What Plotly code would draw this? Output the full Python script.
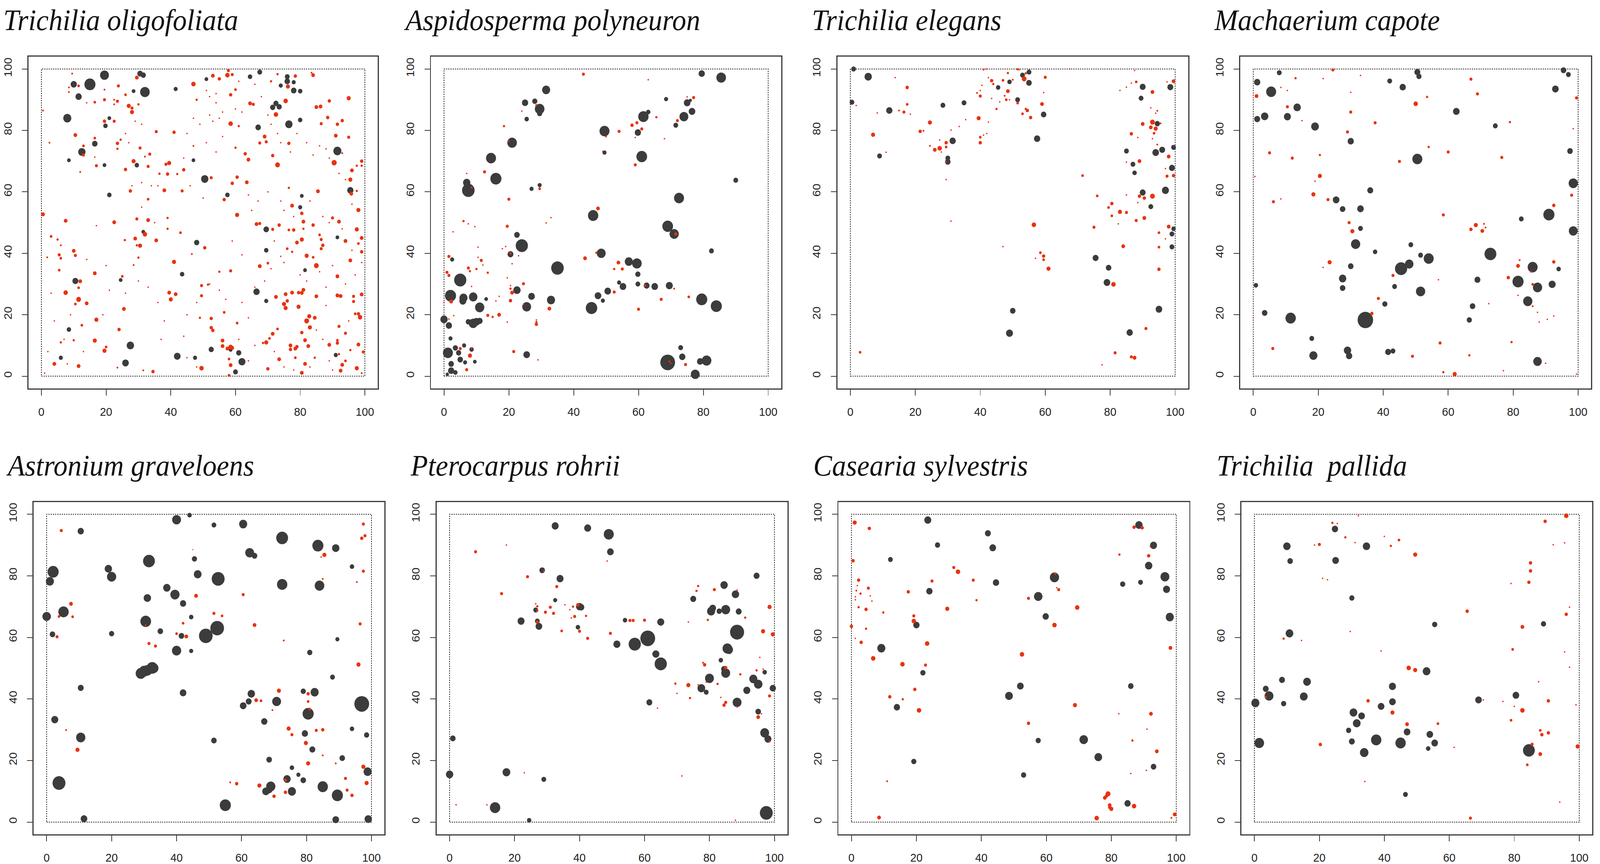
import plotly.graph_objects as go

# stem maps of eight species in 100 x 100 m plots
# each point is (x, y, dbh) ; adults drawn dark, juveniles red

oligofoliata_adults = [
    (15, 95, 30), (19.5, 98, 24), (10, 95, 17), (11.5, 91, 17), (8, 84, 22),
    (30.5, 98.5, 15), (31.5, 98, 14), (32, 92.5, 26), (28.5, 92.8, 10), (21, 84, 10),
    (19.8, 81.5, 12), (12.5, 73, 20), (16.5, 75.7, 15), (8.5, 70.3, 10), (19.5, 68.7, 10),
    (29.5, 68.7, 12), (41.5, 93.5, 11), (51, 96.7, 10), (47, 70.3, 10), (50.5, 64.2, 20),
    (21, 59, 12), (57.5, 59, 12), (64.5, 97.5, 12), (67.5, 99, 13), (76, 97.5, 13),
    (76, 96, 15), (78, 95.7, 11), (74, 94.6, 11), (78, 93, 15), (80, 92.8, 12),
    (72.5, 88.8, 14), (71.5, 87.5, 14), (73.5, 87.7, 14), (80, 83.4, 12), (76.5, 82, 20),
    (67, 81, 15), (91.5, 73.3, 22), (95.5, 60.5, 17), (80.5, 58.7, 10), (80, 55, 11),
    (69.5, 47.8, 15), (69.5, 41, 12), (91.5, 45.2, 10), (81.5, 34.5, 10), (48, 43.5, 14),
    (31.5, 47, 10), (43.5, 33.2, 12), (24.5, 31.3, 10), (10.5, 31, 16), (8.5, 15.2, 12),
    (27.5, 10, 20), (26, 4.3, 18), (42, 6.5, 18), (47.5, 6, 11), (52.5, 8.7, 14),
    (58.5, 8.6, 10), (61, 7.6, 14), (62, 4.7, 19), (60, 1.4, 13), (66.5, 27.5, 17),
    (69.5, 24.5, 11), (91, 6.9, 11), (6, 6, 11),
]
oligofoliata_juveniles = [
    (0.5, 86.5, 5), (9.5, 98.5, 5), (8.5, 94, 5), (8.5, 92.5, 5), (11.5, 94.5, 7),
    (19.5, 90, 8), (19.5, 93.3, 5), (22.5, 90, 5), (23.8, 94.5, 8), (23.5, 89.5, 8),
    (26, 91.6, 7), (27, 88, 11), (28, 87.3, 8), (28, 86, 11), (29.5, 97.2, 10),
    (30, 88.5, 6), (16.5, 89.2, 7), (14, 89, 4), (19.5, 83, 9), (22.5, 83, 8),
    (24.5, 77, 6), (23.5, 75.8, 9), (23.5, 74, 6), (10.5, 78.5, 10), (16.5, 77.5, 7),
    (13, 75, 7), (13, 72, 8), (17, 68.5, 8), (16.5, 71.3, 4), (26, 67.3, 9),
    (28.5, 70, 11), (30.5, 74.3, 8), (33.5, 72.3, 8), (33, 68.3, 8), (32, 71.5, 5),
    (35.5, 79.6, 8), (41, 79.4, 9), (39.5, 69.4, 11), (38.5, 69, 8), (36.5, 65.9, 6),
    (39, 65.8, 9), (42, 65.8, 6), (44, 67.2, 9), (38, 60.5, 10), (43.5, 60.3, 8),
    (27.5, 60.3, 9), (33, 57.6, 7), (47, 75, 5), (47, 95.1, 12), (48, 90, 6),
    (53, 97.8, 10), (55, 96.8, 9), (57.8, 99.5, 8), (57.5, 98, 12), (59, 98.2, 8),
    (60, 93.3, 7), (58.5, 91.6, 9), (58.5, 82.2, 12), (61, 81.4, 6), (60, 74.4, 6),
    (63, 72.4, 9), (64, 70.5, 10), (60.5, 64.8, 9), (59, 62.8, 9), (63.5, 63.1, 10),
    (52.5, 64.6, 8), (56.5, 57.5, 9), (60.5, 52.5, 11), (64.5, 88.8, 10), (65.5, 88.5, 8),
    (69, 78, 10), (69.5, 76.3, 8), (67.5, 75.9, 8), (71.5, 71.8, 9), (73, 68.8, 13),
    (72.5, 85.2, 12), (75.5, 89.6, 12), (76.2, 94.3, 11), (78.5, 97.7, 9), (76.5, 75.8, 9),
    (73, 98.3, 6), (71, 96, 6), (84, 98, 10), (83.5, 98.8, 5), (85, 87.6, 10),
    (86.3, 87.8, 10), (89, 89.6, 9), (88.5, 84.2, 9), (91.5, 82, 9), (86.5, 82.2, 8),
    (91, 78.3, 10), (93, 83.2, 9), (95, 90.5, 11), (95, 77.8, 8), (90.5, 69.5, 14),
    (93, 72.6, 5), (96, 67, 10), (95.5, 64, 11), (97.5, 68.5, 6), (99, 70, 9),
    (99, 68.5, 6), (95.8, 59.4, 10), (97.5, 60.3, 6), (98, 54.1, 11), (99, 45, 10),
    (97.5, 47.8, 11), (98, 43.2, 7), (99, 40.5, 9), (95.5, 37.7, 10), (94, 44, 10),
    (92, 50.3, 10), (90, 51.5, 8), (86.5, 44.5, 8), (87, 42.6, 9), (86.5, 41.5, 8),
    (86, 46, 7), (85, 36, 13), (85.5, 60.2, 10), (84, 49.2, 9), (81, 50.3, 10),
    (80.5, 53, 9), (81, 48, 6), (80.5, 44.5, 11), (79, 43.5, 10), (78, 47.6, 9),
    (76.5, 47.6, 7), (77.5, 55.5, 10), (73.5, 49.2, 9), (71.5, 47.8, 8), (66.5, 49.5, 10),
    (67.5, 49.7, 8), (82, 39.2, 11), (76, 41.5, 7), (77.5, 40.5, 6), (84, 38.7, 7),
    (76.5, 61.3, 6), (67.5, 35.8, 10), (70, 36.8, 7), (75.5, 26.7, 10), (77.5, 27.2, 10),
    (79.5, 27.2, 9), (80.5, 27.1, 10), (81, 28.1, 10), (85, 26, 10), (91.5, 26.3, 10),
    (92.5, 26.1, 10), (91.5, 32.5, 10), (96.5, 26, 8), (99, 26.6, 10), (96.5, 24.3, 8),
    (97, 20.3, 7), (98, 20.3, 9), (98.5, 19.2, 12), (75, 23.5, 11), (75.5, 22.2, 11),
    (76, 24.5, 9), (79.5, 22.6, 11), (82, 18, 13), (82.8, 19.5, 11), (83, 15.9, 11),
    (81.5, 11.7, 10), (82.5, 9.8, 10), (80.5, 14.2, 9), (84.5, 19, 10), (72.5, 25.8, 10),
    (73, 15.4, 7), (71.5, 13.8, 10), (70.5, 12.3, 7), (68.5, 10.8, 6), (69.5, 11, 11),
    (70, 2.4, 9), (73.5, 5.5, 10), (77, 10, 10), (77, 8.7, 9), (78.5, 9, 10),
    (79, 9.6, 9), (78.5, 6, 7), (80.5, 1.1, 10), (81.5, 4, 10), (84.5, 6, 6),
    (89, 10.2, 10), (91.5, 10.8, 9), (91.5, 11.7, 7), (92, 16.2, 8), (94, 14, 8),
    (92.5, 1.8, 10), (93, 3.7, 10), (94, 5, 7), (97.5, 2.6, 11), (99, 1, 5),
    (98, 10.3, 10), (99.5, 7.9, 8), (95.5, 8.5, 6), (92, 7.2, 6), (55, 34, 6),
    (58.5, 34.3, 8), (62, 39.5, 4), (50.5, 41.8, 9), (49.5, 29.5, 8), (51.5, 29.8, 6),
    (49.5, 26.2, 8), (52.5, 18.8, 9), (52.5, 15.8, 9), (53, 14.9, 9), (49, 19, 6),
    (56, 11.6, 10), (56, 9.8, 10), (58.5, 9.5, 12), (59, 9.2, 10), (57.5, 9, 10),
    (58.5, 3.6, 10), (58, 5.6, 7), (58, 0.3, 7), (49.5, 2.6, 12), (60.5, 17.3, 7),
    (56.5, 20.8, 7), (41, 37.2, 11), (39.5, 27.2, 10), (40, 25, 11), (41.5, 26.7, 10),
    (46.5, 39.8, 5), (43, 46.7, 7), (39, 48, 6), (39, 51.5, 6), (35.5, 44.2, 10),
    (32, 46.2, 12), (29.5, 51.2, 8), (33, 50.8, 10), (29, 44.8, 10), (30.5, 42.5, 11),
    (29.5, 42.6, 6), (30, 38.6, 6), (28.5, 36.2, 5), (25.8, 44.3, 6), (22.5, 50.1, 10),
    (16.5, 33.5, 10), (12, 30.9, 10), (11.5, 28.8, 7), (11.5, 25, 13), (10.5, 23.5, 7),
    (14, 23.7, 10), (7.5, 27.2, 12), (7.5, 50.6, 10), (0.5, 52.7, 10), (3, 45.5, 7),
    (5, 44.5, 6), (5.5, 39.5, 8), (6, 38.4, 7), (6, 42.6, 5), (10, 40.8, 10),
    (10.5, 39.3, 8), (5.5, 34.5, 7), (1.8, 38.7, 5), (17, 18.4, 11), (16.5, 11.6, 11),
    (12.5, 16.6, 7), (10, 11.7, 6), (6, 11, 6), (19.5, 8.3, 11), (20, 9.5, 7),
    (11.5, 3.3, 10), (4, 4, 10), (24, 15.2, 9), (25.5, 21.9, 10), (25, 32.5, 7),
    (34.5, 1.5, 9), (31.5, 1.9, 5), (23.5, 2.8, 5), (2.5, 76, 5), (12, 66.5, 5),
    (22.5, 88.5, 5),
    (26, 79, 4), (27, 76, 4), (29, 83, 4), (31, 82, 4), (28, 62, 4), (31, 63, 4),
    (31, 55, 4), (34, 62, 4), (36, 62, 4), (35, 50, 4), (46, 62, 4), (44, 71, 4),
    (45, 79, 4), (47, 84, 4), (49, 82, 4), (52, 85, 4), (53, 83, 4), (55, 84, 4),
    (56, 78, 4), (51, 76, 4), (54, 73, 4), (50, 58, 4), (54, 89, 4), (56, 86, 4),
    (54, 92, 4), (51, 93, 4), (52, 91, 4), (60, 87, 4), (62, 86, 4), (61, 96, 4),
    (66, 95, 4), (68, 91, 4), (70, 85, 4), (71, 82, 4), (73, 79, 4), (74, 76, 4),
    (77, 73, 4), (79, 79, 4), (82, 76, 4), (84, 72, 4), (86, 75, 4), (88, 74, 4),
    (89, 71, 4), (92, 66, 4), (94, 64, 4), (96, 56, 4), (93, 48, 4), (89, 50, 4),
    (87, 52, 4), (83, 57, 4), (78, 52, 4), (75, 54, 4), (74, 57, 4), (70, 60, 4),
    (67, 57, 4), (65, 54, 4), (64, 59, 4), (72, 44, 4), (74, 39, 4), (75, 37, 4),
    (80, 33, 4), (82, 31, 4), (86, 34, 4), (88, 29, 4), (90, 36, 4), (94, 30, 4),
    (97, 33, 4), (99, 37, 4), (96, 41, 4), (88, 23, 4), (85, 15, 4), (87, 12, 4),
    (89, 5, 4), (95, 18, 4), (90, 2, 4), (83, 3, 4), (78, 2, 4), (75, 3, 4),
    (72, 8, 4), (66, 10, 4), (64, 5, 4), (61, 12, 4), (62, 24, 4), (64, 19, 4),
    (66, 29, 4), (69, 31, 4), (71, 35, 4), (59, 44, 4), (57, 25, 4), (55, 28, 4),
    (52, 30, 4), (48, 24, 4), (45, 20, 4), (44, 13, 4), (45, 6, 4), (48, 3, 4),
    (38, 18, 4), (37, 12, 4), (33, 29, 4), (36, 24, 4), (30, 31, 4), (26, 27, 4),
    (21, 28, 4), (19, 20, 4), (14, 38, 4), (17, 49, 4), (20, 36, 4), (9, 20, 4),
    (4, 18, 4), (7, 12, 4), (3, 27, 4), (2, 8, 4), (1, 1, 4), (8, 4, 4), (13, 8, 4),
]

polyneuron_adults = [
    (79.5, 98.5, 17), (85.5, 97.2, 26), (31.5, 93.2, 22), (25, 89, 17), (28, 89.5, 14),
    (29.5, 87, 26), (29.5, 85.5, 14), (25.5, 83.7, 12), (68.5, 90.2, 11), (75, 89, 18),
    (76, 89.8, 8), (76.5, 86.2, 18), (74, 84.5, 24), (71.5, 81.7, 13), (61.5, 84.5, 28),
    (63, 86, 12), (59.8, 79.3, 17), (49.5, 79.8, 27), (49.5, 72.8, 11), (61, 71.5, 29),
    (21, 76, 26), (14.5, 71, 27), (16, 64.3, 30), (7, 63, 20), (7.5, 60.5, 34),
    (27, 61, 11), (29.5, 62.2, 11), (90, 63.8, 13), (72.5, 58, 27), (46, 52.3, 28),
    (69, 48.8, 29), (71, 46.3, 25), (22.5, 46, 15), (24, 42.5, 33), (20.5, 39.7, 16),
    (2.5, 38, 11), (48.5, 40, 24), (82.5, 40.8, 13), (35, 35.2, 34), (57, 37.3, 22),
    (59.5, 36.7, 26), (59.8, 33.2, 14), (5, 31.3, 33), (54, 30.5, 11), (55.2, 29.2, 18),
    (59.8, 30, 13), (62.5, 29.5, 16), (65, 29.2, 18), (69.5, 29.5, 19), (50.5, 27.7, 18),
    (47.5, 26.2, 18), (49, 24.6, 11), (2, 26.2, 30), (6, 25.5, 22), (5.8, 24.5, 19),
    (9, 25.8, 23), (13, 25.1, 10), (11, 22.4, 25), (22.5, 28, 20), (27, 26, 18),
    (25.5, 22.6, 24), (33, 24.8, 22), (45.5, 22.2, 31), (79.5, 25, 30), (84, 22.8, 30),
    (0, 18.5, 20), (1.5, 16.5, 17), (7.5, 17.7, 14), (9, 17.2, 24), (10, 17.7, 20),
    (11, 18, 16), (2, 12.3, 11), (1.2, 7.6, 27), (3.5, 9.2, 14), (4.5, 7.6, 14),
    (5, 5.4, 15), (6.5, 4.5, 11), (6.2, 10, 11), (8.5, 8.7, 12), (9.5, 4.7, 10),
    (2.2, 4, 15), (2.2, 1.8, 17), (3.5, 1.2, 12), (1, 0.6, 9), (25.5, 7, 18),
    (69, 4.5, 40), (73, 9.3, 13), (73.5, 6.3, 17), (79, 4.8, 17), (81, 5.1, 26),
    (77.5, 0.6, 24),
]
polyneuron_juveniles = [
    (43, 98.3, 8), (63, 96.5, 4), (77, 90.7, 8), (75, 90.9, 4), (28.5, 88.2, 6),
    (24, 86.3, 4), (72, 83.2, 8), (65.5, 84.3, 6), (59.5, 82.5, 8), (58, 81.7, 9),
    (61, 80.5, 8), (54, 79.7, 8), (50, 78, 5), (59, 77.7, 4), (68, 77.3, 4),
    (18.5, 81.4, 6), (20, 76.5, 4), (59, 68.8, 8), (49, 73.2, 4), (12.5, 66.5, 8),
    (7, 66, 4), (8.5, 61.5, 5), (29.5, 61, 7), (20, 57.6, 8), (47.5, 54.6, 10),
    (6, 50.5, 6), (7.5, 49.6, 4), (9.5, 48.7, 4), (19.5, 48.8, 8), (31.5, 49.9, 4),
    (33, 51.6, 4), (2.8, 47, 4), (10.5, 42, 4), (18, 41.5, 4), (19, 42.2, 4),
    (20.5, 40, 6), (21, 36.6, 4), (23, 39.2, 4), (1.5, 39, 8), (43.5, 38.4, 10),
    (47, 40.2, 6), (53.8, 37, 10), (52.5, 34.9, 6), (55, 34.9, 8), (71.5, 46.3, 8),
    (0.9, 33.8, 8), (1.5, 32.8, 8), (7.5, 35.2, 8), (8, 34.2, 6), (10, 34.9, 6),
    (11.5, 37.7, 8), (12, 36.2, 4), (13.5, 33.7, 6), (8.5, 29.2, 4), (10.5, 38.7, 4),
    (19.5, 32, 4), (20.5, 28.5, 6), (20.5, 29.5, 4), (21, 27.2, 10), (24.5, 30.1, 8),
    (17, 26, 4), (16, 24.5, 4), (20.5, 24.6, 9), (24.5, 23.3, 4), (2.2, 24.3, 10),
    (0, 24, 4), (13.5, 19.8, 8), (15, 19.3, 6), (17, 20, 10), (19.5, 17.6, 4),
    (3, 19.7, 4), (1.5, 18.6, 4), (28.5, 18.3, 4), (28.5, 17.6, 6), (28.5, 16.9, 9),
    (32.5, 22, 10), (52.5, 27.4, 8), (62, 29.5, 6), (67, 25, 8), (71, 28.5, 5),
    (75.5, 25.8, 7), (60, 21.8, 8), (21.5, 8, 8), (29, 5.3, 4), (5, 9, 8),
    (8.5, 9.1, 5), (8, 6.7, 11), (7, 2.1, 8), (69.5, 4.8, 5), (70, 4.2, 4),
    (74.5, 3.8, 8),
]

elegans_adults = [
    (1, 100, 13), (5.5, 97.5, 20), (0.5, 89.2, 13), (12, 86.5, 17), (9, 71.7, 13),
    (28.5, 88.2, 13), (31.5, 76.6, 17), (30, 71, 13), (30, 69.8, 15), (35, 89, 13),
    (45.5, 94, 12), (49, 95.8, 12), (51.5, 90, 13), (53, 98, 13), (55, 99, 13),
    (55, 95.5, 15), (59.5, 85.2, 15), (57.5, 77.3, 17), (49, 14, 19), (50, 21.3, 15),
    (75.5, 38.5, 16), (79.5, 35.3, 15), (79, 30.5, 18), (86, 14.2, 17), (95, 21.8, 18),
    (85, 73.3, 13), (87, 69, 13), (87.5, 66.2, 12), (89.5, 90.5, 13), (90, 94.2, 16),
    (94.5, 82.2, 14), (94, 72.8, 18), (96, 73.7, 16), (99.5, 74.5, 13), (99, 67.8, 16),
    (98.5, 94.1, 16), (97, 60.5, 19), (90, 59.8, 16), (92.5, 55.2, 13), (99.5, 48, 12),
    (99, 46.3, 13), (99, 42.1, 13),
]
elegans_juveniles = [
    (3, 7.8, 7), (7, 78.6, 11), (1.8, 88.1, 4), (8.3, 85.7, 4), (13.8, 97.2, 4),
    (16.5, 86, 8), (15, 86.5, 5), (17.5, 88.5, 7), (17.5, 94, 9), (18.5, 85.3, 4),
    (11, 72.9, 4), (21.5, 79.7, 9), (22.5, 79.9, 5), (24.5, 82.6, 11), (24.5, 75, 5),
    (26, 73.7, 10), (27.5, 74.2, 12), (27.5, 76.9, 4), (28, 73, 4), (29.5, 76, 9),
    (29.5, 74.6, 7), (29.5, 69.8, 4), (29.5, 64, 4), (31, 80.1, 4), (31, 50.5, 4),
    (33.5, 81.3, 4), (35.5, 83.5, 4), (39, 92.2, 5), (39.5, 84, 11), (40, 91.2, 8),
    (40, 76, 9), (40, 77.8, 7), (40, 93, 4), (41, 78.5, 4), (42, 79, 4),
    (42.5, 82.7, 4), (42.5, 97.2, 4), (41, 99.8, 5), (42, 100, 4), (40.5, 94.7, 4),
    (43.5, 96.2, 9), (44, 95.1, 6), (43.5, 90.4, 4), (45, 87, 6), (46, 89.3, 4),
    (47, 96.3, 7), (47.5, 91.3, 5), (48, 90, 7), (48.5, 92.8, 10), (49, 90, 4),
    (48.5, 98.7, 6), (50, 96.5, 5), (51.5, 99.9, 6), (52, 99.8, 4), (51.5, 88.9, 7),
    (53, 85.4, 7), (53.5, 96.8, 13), (54, 98.6, 6), (54, 87, 6), (54.5, 86.5, 9),
    (55.5, 84.2, 9), (59, 88.6, 10), (60, 97.3, 8), (59.5, 92.3, 4), (67.5, 100, 4),
    (47, 42.2, 4), (56.5, 49.3, 12), (58.5, 40.2, 7), (59.5, 39.1, 9), (59.5, 37.9, 7),
    (57, 38.4, 4), (61, 35, 11), (71.5, 65.3, 7), (75, 48.5, 8), (76, 58.7, 7),
    (77.5, 3.7, 4), (80.5, 56.2, 9), (79.5, 54.9, 7), (80.5, 52.2, 7), (81, 29.9, 12),
    (81.5, 7.6, 8), (82.5, 49.6, 4), (83, 53.5, 11), (84, 42.3, 10), (85, 53.3, 8),
    (85, 59, 4), (85, 69.7, 4), (83, 93, 4), (85, 94.1, 4), (86.5, 95.4, 4),
    (87.5, 99.5, 4), (88, 95.8, 7), (86.5, 78.9, 9), (88.5, 77.7, 4), (89, 70, 10),
    (89, 58.6, 9), (88.5, 56.5, 4), (88, 50.7, 8), (90.5, 58, 9), (90.5, 51.5, 10),
    (90, 82.1, 10), (91, 15.5, 8), (86.5, 6.3, 8), (87.5, 6, 10), (92.5, 81, 10),
    (92.5, 87.4, 4), (93, 92.5, 10), (93, 82.7, 13), (93, 77.3, 4), (93, 58.6, 13),
    (93.5, 79.1, 7), (94, 80.6, 11), (94, 85.6, 4), (94.5, 86.4, 5), (94.5, 75.4, 5),
    (95.5, 82.3, 5), (95, 46.7, 7), (95, 42, 7), (95, 34.8, 9), (97, 67.6, 4),
    (97.5, 65.1, 8), (98, 71.5, 10), (98, 48.7, 10), (97, 44.7, 4), (97.5, 95.8, 4),
    (99.5, 96, 10), (99.5, 65.3, 9),
]

capote_adults = [
    (8, 98.8, 13), (1.2, 95.7, 17), (5.5, 92.6, 27), (1.2, 83.7, 16), (3.5, 84.6, 20),
    (10.5, 84.5, 19), (13.5, 87.5, 20), (19, 81.3, 21), (30, 76.5, 17), (42, 96.1, 13),
    (46, 94.1, 17), (50.5, 99, 16), (51, 97.6, 14), (62.5, 86.2, 18), (50.5, 70.7, 27),
    (74.5, 81.5, 13), (95.5, 99.6, 15), (97, 98.2, 13), (93, 93.5, 18), (97.5, 73.3, 15),
    (98.5, 62.8, 25), (91, 52.6, 30), (98.5, 47.3, 24), (36, 60.5, 16), (25.5, 57.4, 18),
    (27.5, 54.4, 15), (33, 54.5, 18), (33, 48.1, 13), (31.5, 43, 25), (37.5, 40.5, 12),
    (48.5, 42.8, 13), (51.5, 39.4, 13), (54, 38.3, 27), (48, 36.5, 23), (45.5, 35, 33),
    (30, 35.8, 15), (27.5, 31.8, 20), (27.5, 28.7, 15), (43.5, 29.2, 13), (40.5, 23.5, 14),
    (51.5, 27.6, 25), (34.5, 18.3, 42), (11.5, 18.9, 28), (3.5, 20.6, 15), (0.8, 29.6, 12),
    (18, 12.3, 13), (18.5, 6.7, 22), (29, 8.4, 20), (29.5, 6.6, 17), (41.5, 7.9, 16),
    (43, 8.2, 13), (73, 39.8, 32), (69, 31.4, 16), (67.5, 22.8, 15), (66.5, 18.3, 14),
    (82.5, 51.2, 13), (81.5, 30.8, 30), (86, 35.5, 27), (87.5, 28.9, 25), (84.5, 24.4, 25),
    (92, 29.9, 19), (94, 34.9, 12), (87.5, 4.8, 23),
]
capote_juveniles = [
    (24.5, 99.7, 8), (13, 97, 6), (21.5, 96.9, 4), (33, 97.9, 4), (8.5, 94, 4),
    (10.5, 93, 4), (1, 91.2, 10), (30, 92.4, 4), (10.5, 87.7, 8), (15, 83.2, 4),
    (30, 86, 8), (37.5, 82.5, 8), (29, 79.5, 8), (5, 72.7, 8), (12, 71, 8),
    (20.5, 72, 6), (0.5, 65, 4), (20.5, 65.2, 11), (19, 63.5, 4), (18.5, 59.2, 11),
    (8.5, 57.7, 4), (6.2, 56.8, 8), (23, 57.5, 8), (29.5, 50, 8), (30.5, 47.2, 11),
    (23.5, 37.1, 11), (21.5, 35.4, 4), (36.5, 20.4, 9), (38.5, 25.3, 8), (43, 32.8, 8),
    (45, 69.9, 8), (50, 88.7, 12), (53.5, 90.9, 6), (54, 74.6, 6), (60, 73, 8),
    (67, 96.7, 8), (69, 91.9, 8), (79, 82.7, 6), (76.5, 71.2, 8), (99.5, 90.6, 8),
    (98.5, 80.6, 4), (98, 58.9, 8), (92.5, 55.6, 9), (58.5, 52.5, 8), (67, 47.8, 9),
    (68.5, 49.2, 11), (70.5, 47.3, 10), (71, 49.6, 5), (71.5, 48.4, 5), (57, 31.4, 4),
    (72.5, 23.6, 4), (78.5, 32.1, 9), (81.5, 35.9, 10), (82, 37.8, 5), (81.5, 26.3, 4),
    (85.5, 34, 5), (86, 29.9, 7), (86, 22.8, 5), (87.5, 20.8, 4), (88, 17.6, 4),
    (90.5, 18.5, 4), (92.5, 19.6, 4), (92.5, 37.2, 9), (79.5, 11.1, 6), (57.5, 10.8, 8),
    (66.5, 6.8, 6), (49, 6.5, 8), (58.5, 1.3, 6), (62, 0.7, 11), (77, 1.8, 4),
    (90, 4.2, 4), (99.5, 0.7, 4), (0, 19, 4), (6, 9, 8),
]

graveloens_adults = [
    (44, 99.7, 12), (40, 98.2, 24), (51.5, 96.5, 13), (60.5, 96.8, 22), (10.5, 94.5, 17),
    (72.5, 92.3, 32), (83.5, 89.8, 30), (89, 89, 20), (62.5, 87.5, 24), (64, 86.5, 15),
    (45.5, 85.5, 14), (31.5, 84.8, 32), (2, 81.3, 30), (1, 78.2, 22), (19, 82.3, 20),
    (20, 79.7, 25), (46.5, 80.5, 21), (52.8, 79, 35), (72.5, 77.2, 28), (84, 76.8, 26),
    (94, 83, 12), (37, 76.1, 20), (39.5, 73.9, 25), (31, 72.8, 20), (42, 71, 17),
    (44.5, 66.6, 12), (0, 66.8, 23), (5.2, 68.3, 28), (30.5, 66, 16), (30.5, 65.2, 29),
    (52.5, 63, 37), (49, 60.5, 37), (35, 62, 15), (41.5, 60.5, 15), (1.8, 61, 15),
    (20, 61.2, 14), (40, 55.7, 25), (44.5, 55.6, 11), (29, 48.3, 28), (30, 49, 28),
    (31, 49.3, 27), (32.5, 50.1, 30), (33, 50, 25), (10.5, 43.6, 16), (42, 42, 18),
    (2.5, 33.3, 19), (10.5, 27.5, 25), (3.8, 12.7, 35), (11.5, 1.1, 18), (51.5, 26.5, 15),
    (55, 5.5, 30), (63, 41.7, 20), (60.5, 37.8, 18), (62.2, 39.2, 16), (70.8, 39.2, 24),
    (67, 32.7, 17), (79, 42.5, 14), (82.5, 42.2, 22), (80.5, 35.2, 30), (81, 55.1, 14),
    (88, 47.1, 13), (89.5, 59.4, 11), (97, 38.4, 40), (79.5, 28.8, 17), (81.8, 23.6, 16),
    (94, 30.3, 12), (98.5, 28.3, 14), (68.5, 20.3, 15), (75.5, 17.7, 12), (77.5, 15.4, 11),
    (79, 13.6, 15), (74, 14, 20), (67.5, 10, 20), (68.5, 10.5, 18), (69, 11.6, 25),
    (75.5, 10, 22), (85, 11.5, 28), (89.5, 8.7, 30), (91, 20.8, 15), (98.8, 16.4, 22),
    (89, 0.8, 18), (99, 1, 20),
]
graveloens_juveniles = [
    (4.5, 94.7, 8), (7.5, 70.9, 10), (3.8, 66.8, 7), (8, 66.7, 7), (3.2, 60.2, 8),
    (6, 29.9, 5), (9.5, 23.5, 11), (30.5, 63.9, 5), (31.5, 58, 8), (33.5, 57.2, 8),
    (45, 88.5, 3), (46, 73.5, 10), (40, 61.2, 7), (42, 64.6, 7), (43, 60.3, 10),
    (51.5, 67.8, 8), (54, 67, 7), (60.5, 73.9, 8), (64, 64, 10), (73, 59, 5),
    (85.5, 86.8, 11), (84.5, 86.1, 4), (85, 79, 5), (97.5, 96.8, 8), (97, 92.2, 9),
    (98, 93, 8), (97.5, 81.5, 8), (95.5, 78, 5), (96.5, 64.4, 8), (96, 51.2, 11),
    (64.5, 39.6, 10), (66, 39.4, 7), (71.5, 42.7, 11), (69.5, 36.4, 5), (80.5, 41.7, 9),
    (80.5, 39.2, 7), (81, 36.7, 7), (74.5, 30.4, 11), (75.5, 28.4, 8), (83, 29.8, 8),
    (85, 30, 9), (79.8, 25.7, 11), (80.5, 19.1, 11), (85, 21.7, 5), (89, 19.1, 5),
    (97.5, 18, 11), (92, 14.2, 8), (98.5, 12.7, 11), (92.5, 10.4, 8), (94, 8.7, 9),
    (73.5, 13.6, 8), (73.5, 9.7, 9), (70, 8.4, 9), (65.5, 11.9, 11), (58.5, 12.5, 9),
    (56.5, 12.9, 5),
]

rohrii_adults = [
    (32.5, 96.2, 19), (42.5, 95.5, 19), (49, 93.5, 27), (49.5, 87.8, 18), (28.5, 81.8, 15),
    (34, 79.1, 19), (32.5, 72.1, 11), (26.5, 68.9, 13), (22, 65.3, 19), (27, 65.3, 13),
    (27.5, 63.6, 18), (39.5, 63.3, 12), (40, 70, 19), (40.5, 69.8, 17), (54, 65.6, 12),
    (51.5, 57.8, 19), (57, 57.8, 33), (61, 59.7, 40), (65, 65, 19), (63.5, 54.6, 19),
    (65, 51.4, 33), (61.5, 38.9, 16), (75, 72.5, 16), (84.5, 77, 20), (88, 74, 20),
    (94.5, 80, 16), (80.5, 68.5, 22), (81, 69.5, 18), (83, 68.5, 14), (85, 69, 24),
    (89, 68.4, 16), (88.5, 61.7, 38), (85.5, 56.4, 26), (86, 56, 22), (83.5, 52.6, 12),
    (84.5, 49.7, 16), (85, 48.4, 24), (80, 46.7, 24), (77.5, 43.5, 21), (79, 42.2, 13),
    (91.5, 42.8, 19), (93.5, 46.5, 22), (95, 44.8, 23), (97, 48.7, 12), (99.5, 43.5, 17),
    (88.5, 38.9, 24), (95, 35.9, 15), (97, 29, 24), (98, 27, 19), (97.5, 3, 35),
    (1, 27.2, 15), (0, 15.5, 20), (17.5, 16.2, 21), (29, 13.9, 13), (14, 4.7, 28),
    (24.5, 0.6, 12),
]
rohrii_juveniles = [
    (8, 87.8, 8), (17.5, 90, 4), (16, 74.2, 8), (24, 79.7, 8), (29, 81.5, 5),
    (33, 76.5, 8), (26.5, 70.9, 4), (27, 70.1, 6), (27, 68.7, 6), (29.5, 68.2, 8),
    (31, 69.8, 8), (32, 67.8, 8), (34.5, 62.1, 7), (35.5, 70.6, 4), (37, 69, 4),
    (37.5, 66.3, 4), (38, 70, 6), (38.5, 66.8, 8), (39.5, 70.6, 9), (40, 62, 8),
    (42, 67, 6), (42.5, 59.7, 8), (27, 65, 8), (48.5, 84.8, 4), (49.5, 61.3, 8),
    (55.5, 65.5, 8), (56.5, 65.5, 8), (60, 65.6, 8), (64, 37, 4), (71.5, 15, 4),
    (23, 16, 4), (11.5, 5.6, 4), (2, 5.6, 4), (69.5, 45, 6), (70, 41.8, 4),
    (73.5, 65, 4), (73.5, 44.5, 11), (74, 40.3, 6), (76, 75.1, 6), (76.5, 76.7, 6),
    (76.5, 44.6, 4), (78, 51.8, 5), (78.5, 51.1, 9), (79, 45.5, 4), (79.5, 65.7, 6),
    (81.5, 75.5, 8), (82.5, 44.9, 6), (83.5, 40.5, 4), (84.5, 38, 9), (85, 38.9, 8),
    (85, 50.2, 9), (88.5, 75.4, 4), (88.5, 37.4, 4), (89.5, 48, 6), (91, 66.4, 6),
    (94.5, 49.3, 6), (95.5, 53.5, 4), (96.5, 49.7, 4), (96, 35.2, 4), (95, 34.1, 10),
    (98.5, 69.9, 11), (96.5, 62, 11), (99.5, 61, 11), (98.5, 41, 8), (98.5, 26.2, 5),
    (88, 0.6, 4),
]

sylvestris_adults = [
    (23.5, 98.1, 19), (42, 93.8, 16), (43.5, 89.1, 18), (26.5, 90, 14), (12, 85.3, 13),
    (24, 75, 17), (44.5, 77.8, 17), (9.2, 56.5, 22), (20, 64, 17), (22, 48.5, 14),
    (14, 37.3, 17), (19.2, 19.7, 14), (48.5, 41, 21), (52, 44.2, 18), (57.5, 73.3, 23),
    (59.8, 66.8, 17), (62.5, 79.5, 25), (57.5, 26.5, 14), (71.5, 26.8, 23), (76, 21.1, 21),
    (53, 15.3, 14), (85, 6.1, 17), (86, 44.2, 15), (83.5, 77.3, 14), (88.5, 96.5, 20),
    (93, 89.9, 19), (89, 77.9, 13), (91.5, 83.3, 20), (96.5, 79.7, 24), (97, 75.6, 19),
    (98, 66.6, 22), (93, 18, 15),
]
sylvestris_juveniles = [
    (1, 97.3, 11), (5.5, 95.4, 9), (0.5, 84.9, 9), (2.2, 78.6, 9), (1.8, 76.8, 4),
    (1.5, 75.2, 5), (2.8, 74.2, 6), (1.2, 73.2, 4), (1.2, 72.2, 4), (5.2, 76, 8),
    (5.8, 73.5, 4), (6.3, 71.8, 4), (2.2, 69.8, 6), (4.5, 69.1, 9), (4.5, 62.8, 6),
    (1.2, 59.7, 4), (0, 63.6, 9), (3, 58.4, 9), (9.8, 68.1, 6), (6.7, 53.2, 12),
    (17.5, 74.8, 9), (19.2, 67, 8), (19.2, 65.3, 12), (23.3, 58, 12), (22.8, 51, 8),
    (15.7, 51.3, 12), (11.8, 40.7, 9), (15.8, 39.9, 6), (19.5, 43.1, 9), (20.8, 36.3, 12),
    (11, 13.3, 5), (8.5, 1.5, 10), (24.8, 78.3, 8), (29.5, 69.3, 11), (31.5, 82.7, 8),
    (32.8, 81.3, 12), (37.5, 78.6, 8), (38.5, 72.1, 6), (54.5, 72.7, 8), (52.5, 54.5, 12),
    (54.5, 32.1, 9), (62.5, 64, 12), (62.8, 80.7, 6), (63.2, 76.1, 4), (63.8, 75.5, 8),
    (69.5, 69.7, 12), (68.8, 38, 11), (82.5, 86.9, 6), (82.3, 35.2, 4), (86.5, 26.5, 6),
    (86, 15.8, 4), (87, 95.8, 9), (89.5, 95.6, 9), (91.5, 86.5, 9), (92, 89.5, 4),
    (92.2, 35.2, 10), (91, 30.2, 4), (90.8, 16.8, 4), (94, 23, 10), (98.2, 56.6, 10),
    (75.5, 1.3, 12), (78, 7.9, 10), (79, 9.2, 13), (78.5, 8.5, 9), (79.5, 5.5, 10),
    (79.5, 4.8, 9), (80, 4.3, 11), (87, 5.2, 12), (99.5, 2.5, 10), (98.5, 1.4, 5),
]

pallida_adults = [
    (24.8, 95.2, 17), (10, 89.6, 20), (11, 84.8, 15), (25, 85, 18), (34.5, 89.6, 20),
    (30, 72.8, 14), (10.8, 61.3, 21), (55.5, 64.2, 14), (89, 64.4, 14), (53, 49, 21),
    (8.5, 46.2, 16), (3.5, 43.3, 16), (4.5, 41, 24), (0.3, 38.7, 22), (9, 38.5, 14),
    (16.2, 45.6, 21), (15.2, 40.8, 21), (1.5, 25.7, 26), (42.5, 44.1, 19), (42.5, 39.1, 18),
    (39, 37.6, 18), (30.5, 35.6, 21), (33, 34.5, 18), (31.5, 32.1, 21), (29, 29.8, 14),
    (30, 26.2, 16), (37.5, 26.7, 28), (45, 25.7, 28), (33.8, 22.6, 23), (47, 29.3, 18),
    (54, 28.5, 18), (53.5, 23.9, 12), (55.5, 25.7, 18), (46.5, 9, 13), (69, 39.7, 18),
    (80.5, 41.2, 18), (84.5, 23.3, 32),
]
pallida_juveniles = [
    (24, 97.2, 6), (25.5, 97, 4), (32, 99.5, 4), (28, 92.5, 6), (18.5, 90, 4),
    (20, 90.2, 8), (31, 90.8, 4), (40, 92.8, 4), (42, 89.7, 6), (44.5, 91.6, 7),
    (49.5, 86.9, 11), (21, 79.2, 4), (22.5, 78.7, 4), (9, 59.6, 6), (14.5, 59, 4),
    (29.5, 61.9, 4), (39, 55.6, 4), (3.5, 40.6, 6), (20.3, 25.2, 9), (35, 39.4, 9),
    (42.5, 35.6, 11), (47, 31.8, 10), (56.5, 32, 7), (47.5, 50.1, 12), (49.5, 49.4, 11),
    (34, 13.2, 4), (61.5, 24.3, 4), (65.5, 68.5, 9), (66.5, 1.3, 8), (70.5, 39.7, 4),
    (76.5, 39.2, 4), (79, 33.1, 7), (79.5, 56.1, 7), (79, 77.5, 4), (80, 37.6, 4),
    (82.5, 63.4, 10), (82.5, 36.3, 12), (85, 84.2, 9), (85, 81.6, 9), (84.5, 77.9, 9),
    (84, 18.6, 7), (85.5, 25.3, 8), (87.5, 45.6, 4), (88, 22.1, 10), (88, 29.8, 7),
    (88.5, 28.4, 9), (89.5, 97.7, 9), (92, 90.1, 4), (90.5, 39.4, 9), (90.5, 29, 9),
    (95.5, 90.7, 4), (96, 99.5, 12), (95.5, 55.3, 4), (96, 67.5, 9), (97, 69.8, 4),
    (97, 50.3, 4), (99, 38.1, 4), (94, 6.5, 4), (99.5, 24.6, 11),
]

species = [
    ("Trichilia oligofoliata", oligofoliata_adults, oligofoliata_juveniles),
    ("Aspidosperma polyneuron", polyneuron_adults, polyneuron_juveniles),
    ("Trichilia elegans", elegans_adults, elegans_juveniles),
    ("Machaerium capote", capote_adults, capote_juveniles),
    ("Astronium graveloens", graveloens_adults, graveloens_juveniles),
    ("Pterocarpus rohrii", rohrii_adults, rohrii_juveniles),
    ("Casearia sylvestris", sylvestris_adults, sylvestris_juveniles),
    ("Trichilia\u00a0 pallida", pallida_adults, pallida_juveniles),
]
tick_values = [0, 20, 40, 60, 80, 100]

# page geometry (pixels): panel frame boxes (left, top, right, bottom), title anchor (x, y)
W, H = 4328, 2213
boxes = [
    (77, 146, 1022, 1000), (1166, 146, 2113, 1000), (2265, 146, 3214, 1000), (3355, 146, 4304, 1000),
    (91, 1292, 1040, 2148), (1181, 1292, 2130, 2148), (2268, 1292, 3217, 2148), (3358, 1292, 4307, 2148),
]
title_pos = [(7, 51), (1090, 51), (2194, 51), (3282, 51),
             (14, 1198), (1108, 1198), (2198, 1198), (3289, 1198)]

DARK = "#3c3c3c"
RED = "#e8330f"
FRAME = "#3a3a3a"
PX_PER_DBH = 1.0

fig = go.Figure()
for i, (name, adults, juveniles) in enumerate(species):
    n = i + 1
    xa = "x" if n == 1 else f"x{n}"
    ya = "y" if n == 1 else f"y{n}"
    for pts, color in ((adults, DARK), (juveniles, RED)):
        xs, ys, ds = zip(*pts)
        fig.add_trace(go.Scatter(
            x=list(xs), y=list(ys), mode="markers", xaxis=xa, yaxis=ya,
            marker=dict(size=list(ds), sizemode="diameter", sizeref=1 / PX_PER_DBH,
                        color=color, line=dict(width=0), opacity=1),
            hoverinfo="skip", showlegend=False))

    left, top, right, bottom = boxes[i]
    axis = dict(range=[-4, 104], showline=True, mirror=True, linecolor=FRAME, linewidth=2.5,
                ticks="outside", ticklen=15, tickwidth=2, tickcolor=FRAME,
                tickvals=tick_values, showgrid=False, zeroline=False,
                tickfont=dict(family="Liberation Sans", size=30, color="#222222"),
                ticklabelstandoff=16, fixedrange=True)
    suffix = "" if n == 1 else str(n)
    fig.layout["xaxis" + suffix] = dict(axis, domain=[left / W, right / W], anchor=ya)
    fig.layout["yaxis" + suffix] = dict(axis, domain=[1 - bottom / H, 1 - top / H],
                                        anchor=xa, tickangle=-90)

    fig.add_shape(type="rect", xref=xa, yref=ya, x0=0, y0=0, x1=100, y1=100,
                  line=dict(color="#111111", width=2, dash="dot"), layer="below")

    tx, ty = title_pos[i]
    fig.add_annotation(text=f"<i>{name}</i>", xref="paper", yref="paper",
                       x=tx / W, y=1 - ty / H, xanchor="left", yanchor="middle",
                       showarrow=False,
                       font=dict(family="Liberation Serif", size=76, color="#111111"))

fig.update_layout(width=W, height=H, margin=dict(l=0, r=0, t=0, b=0),
                  paper_bgcolor="white", plot_bgcolor="white")

# drop the default page margin and stretch the fixed-size figure over the viewport
fit_page = """
document.documentElement.style.margin = '0';
document.body.style.margin = '0';
document.documentElement.style.overflow = 'hidden';
document.body.style.overflow = 'hidden';
var gd = document.getElementById('{plot_id}');
var vw = Math.min(window.innerWidth, document.documentElement.clientWidth || window.innerWidth);
var vh = Math.min(window.innerHeight, document.documentElement.clientHeight || window.innerHeight);
gd.style.transformOrigin = '0 0';
gd.style.transform = 'scale(' + (vw / %d) + ',' + (vh / %d) + ')';
""" % (W, H)

fig.write_html("out.html", post_script=fit_page, config={"displayModeBar": False})
